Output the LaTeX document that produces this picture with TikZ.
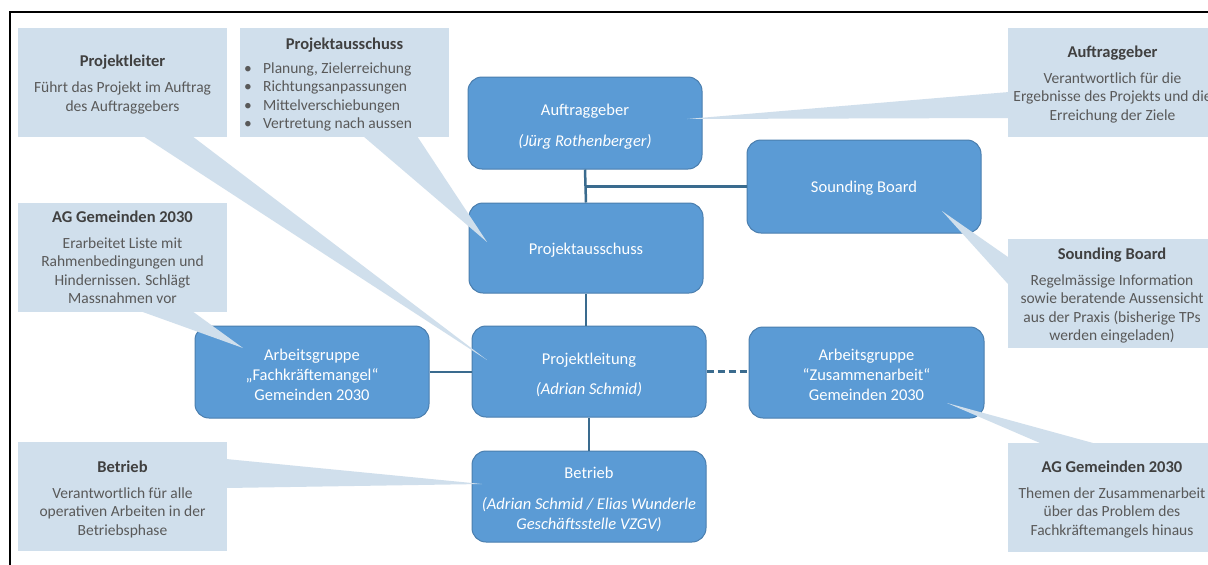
\documentclass[tikz,border=0pt]{standalone}
\usepackage{fontspec}
\setmainfont{Carlito}
\usetikzlibrary{calc}
\definecolor{boxblue}{HTML}{5B9BD5}
\definecolor{boxedge}{HTML}{4A7EAE}
\definecolor{calloutfill}{HTML}{D0DFEC}
\definecolor{linecol}{HTML}{3A6B8E}
\definecolor{titlegray}{HTML}{404040}
\definecolor{bodygray}{HTML}{595959}
\begin{document}
\begin{tikzpicture}[x=1pt,y=-1pt,
  orgbox/.style={draw=boxedge, line width=1pt, fill=boxblue, rounded corners=14pt,
    minimum width=234pt, minimum height=91pt, inner sep=0pt},
  orgtext/.style={text=white, align=center, font=\fontsize{16.5}{20}\selectfont, inner sep=0pt},
  callbox/.style={fill=calloutfill, minimum width=209pt, minimum height=109pt, inner sep=0pt},
  calltext/.style={align=center, text=bodygray, font=\fontsize{15.5}{18.5}\selectfont, inner sep=0pt},
  calltitle/.style={text=titlegray, font=\fontsize{16.5}{18.5}\selectfont\bfseries, inner sep=0pt},
  calllist/.style={text=bodygray, align=left, font=\fontsize{15.5}{18.3}\selectfont, inner sep=0pt},
  conn/.style={draw=linecol, line width=2.5pt},
  dashconn/.style={conn, dash pattern=on 7pt off 4pt},
  tail/.style={fill=calloutfill},
  frameline/.style={draw=black, line width=2.5pt}]
\useasboundingbox (0,0) rectangle (1208,565);
\fill[white] (0,0) rectangle (1208,565);

% frame
\coordinate (fbl) at (10,566);
\coordinate (ftl) at (10,12);
\coordinate (ftr) at (1209,12);
\draw[frameline] (fbl) -- (ftl) -- (ftr);

% org boxes
\node[orgbox, minimum height=92pt] (ag) at (585,123) {};
\node[orgbox, minimum height=90pt] (pa) at (586,248) {};
\node[orgbox, minimum height=93pt] (sb) at (864,186.5) {};
\node[orgbox] (pl) at (589,371.5) {};
\node[orgbox] (be) at (589,496.5) {};
\node[orgbox, minimum height=92pt] (agf) at (312,372) {};
\node[orgbox, minimum width=235pt] (agz) at (866.5,372.5) {};

\node[orgtext] (agT) at ([yshift=-4pt]ag.center) {Auftraggeber\\[11pt]\textit{(Jürg Rothenberger)}};
\node[orgtext] (paT) at ([yshift=-2pt]pa.center) {Projektausschuss};
\node[orgtext] (sbT) at ([yshift=-2pt]sb.center) {Sounding Board};
\node[orgtext] (plT) at ([yshift=-3.5pt]pl.center) {Projektleitung\\[10pt]\textit{(Adrian Schmid)}};
\node[orgtext] (beT) at ([yshift=-2.5pt]be.center) {Betrieb\\[11pt]\textit{(Adrian Schmid / Elias Wunderle}\\\textit{Geschäftsstelle VZGV)}};
\node[orgtext] (agfT) at ([yshift=-2.5pt]agf.center) {Arbeitsgruppe\\„Fachkräftemangel“\\Gemeinden 2030};
\node[orgtext] (agzT) at ([yshift=-2.5pt]agz.center) {Arbeitsgruppe\\“Zusammenarbeit“\\Gemeinden 2030};

% connectors
\draw[conn] (ag.south) -- (pa.north);
\draw[conn] (ag.south |- sb.west) -- (sb.west);
\draw[conn] (pa.south) -- (pa.south |- pl.north);
\draw[conn] (pl.south) -- (be.north);
\draw[conn] (agf.east) -- (agf.east -| pl.west);
\draw[dashconn] (pl.east) -- (pl.east -| agz.west);

% callout tails
\coordinate (t1a) at (143,136); \coordinate (t1b) at (192,136); \coordinate (t1c) at (487,360);
\coordinate (t2a) at (363,136); \coordinate (t2b) at (417,136); \coordinate (t2c) at (487,242);
\coordinate (t3a) at (1009,92);  \coordinate (t3b) at (1009,118); \coordinate (t3c) at (687,119);
\coordinate (t4a) at (140,311); \coordinate (t4b) at (192,311); \coordinate (t4c) at (243,348);
\coordinate (t5a) at (1008,257); \coordinate (t5b) at (1008,284); \coordinate (t5c) at (942,211);
\coordinate (t6a) at (226,459); \coordinate (t6b) at (226,488); \coordinate (t6c) at (482,484);
\coordinate (t7a) at (1040,443); \coordinate (t7b) at (1093,443); \coordinate (t7c) at (947,403);
\fill[tail] (t1a) -- (t1b) -- (t1c) -- cycle;
\fill[tail] (t2a) -- (t2b) -- (t2c) -- cycle;
\fill[tail] (t3a) -- (t3b) -- (t3c) -- cycle;
\fill[tail] (t4a) -- (t4b) -- (t4c) -- cycle;
\fill[tail] (t5a) -- (t5b) -- (t5c) -- cycle;
\fill[tail] (t6a) -- (t6b) -- (t6c) -- cycle;
\fill[tail] (t7a) -- (t7b) -- (t7c) -- cycle;

% callouts
\node[callbox] (c1) at (122.5,82.5) {};
\node[callbox] (c2) at (344.5,82.5) {};
\node[callbox] (c3) at (1112.5,82.5) {};
\node[callbox] (c4) at (122.5,257.5) {};
\node[callbox] (c5) at (1112,293.5) {};
\node[callbox] (c6) at (122.5,496.5) {};
\node[callbox] (c7) at (1112,497) {};

\node[calltext] (c1T) at ([yshift=-2pt]c1.center) {{\color{titlegray}\fontsize{16.5}{18.5}\selectfont\bfseries Projektleiter}\\[7.5pt]Führt das Projekt im Auftrag\\des Auftraggebers};
\node[calltitle] (c2t) at (344.5,45) {Projektausschuss};
\node[calllist, anchor=west] (c2l) at (244,97) {\makebox[19pt][l]{•}Planung, Zielerreichung\\\makebox[19pt][l]{•}Richtungsanpassungen\\\makebox[19pt][l]{•}Mittelverschiebungen\\\makebox[19pt][l]{•}Vertretung nach aussen};
\node[calltext] (c3T) at ([yshift=-2pt]c3.center) {{\color{titlegray}\fontsize{16.5}{18.5}\selectfont\bfseries Auftraggeber}\\[7.5pt]Verantwortlich für die\\Ergebnisse des Projekts und die\\Erreichung der Ziele};
\node[calltext] (c4T) at (c4.center) {{\color{titlegray}\fontsize{16.5}{18.5}\selectfont\bfseries AG Gemeinden 2030}\\[7.5pt]Erarbeitet Liste mit\\Rahmenbedingungen und\\Hindernissen. Schlägt\\Massnahmen vor};
\node[calltext] (c5T) at ([yshift=-2pt]c5.center) {{\color{titlegray}\fontsize{16.5}{18.5}\selectfont\bfseries Sounding Board}\\[7.5pt]Regelmässige Information\\sowie beratende Aussensicht\\aus der Praxis (bisherige TPs\\werden eingeladen)};
\node[calltext] (c6T) at ([yshift=-2.5pt]c6.center) {{\color{titlegray}\fontsize{16.5}{18.5}\selectfont\bfseries Betrieb}\\[7.5pt]Verantwortlich für alle\\operativen Arbeiten in der\\Betriebsphase};
\node[calltext] (c7T) at ([yshift=-2.5pt]c7.center) {{\color{titlegray}\fontsize{16.5}{18.5}\selectfont\bfseries AG Gemeinden 2030}\\[7.5pt]Themen der Zusammenarbeit\\über das Problem des\\Fachkräftemangels hinaus};
\end{tikzpicture}
\end{document}
